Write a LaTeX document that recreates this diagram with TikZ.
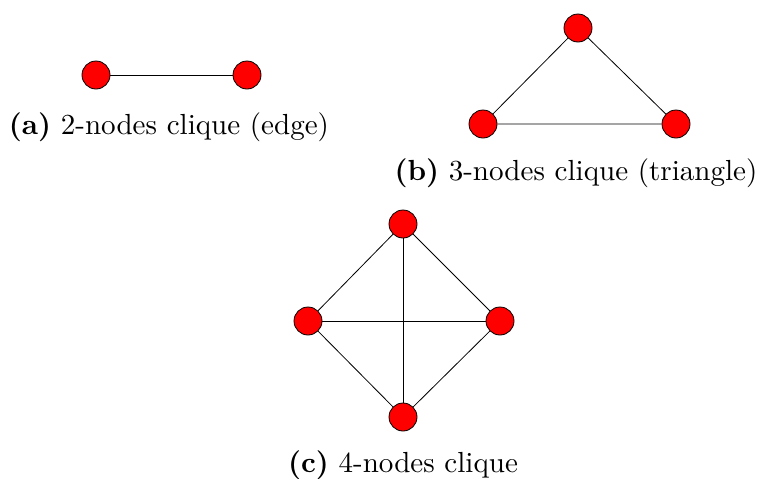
\documentclass[tikz,border=0pt]{standalone}
\newcommand{\capscale}[1]{\scalebox{2.18}{#1}}
\begin{document}
\begin{tikzpicture}[x=0.75pt,y=-0.75pt,
  vert/.style={circle,draw=black,fill=red,line width=0.6pt,minimum size=21pt,inner sep=0pt},
  edge/.style={draw=black,line width=0.6pt},
  captext/.style={font=\normalsize,inner sep=0pt,anchor=base}]
\useasboundingbox (0,0) rectangle (758,479);
% (a)
\node[vert] (a1) at (96,75) {};
\node[vert] (a2) at (247,75) {};
\draw[edge] (a1) -- (a2);
\node[captext] (ca) at (169,134) {\capscale{\textbf{(a)} 2-nodes clique (edge)}};
% (b)
\node[vert] (b1) at (578,28) {};
\node[vert] (b2) at (483,124) {};
\node[vert] (b3) at (676,124) {};
\draw[edge] (b1) -- (b2) -- (b3) -- (b1);
\node[captext] (cb) at (576,180) {\capscale{\textbf{(b)} 3-nodes clique (triangle)}};
% (c)
\node[vert] (c1) at (403,224) {};
\node[vert] (c2) at (308,321) {};
\node[vert] (c3) at (500,321) {};
\node[vert] (c4) at (403,417) {};
\draw[edge] (c1) -- (c2) -- (c4) -- (c3) -- (c1);
\draw[edge] (c1) -- (c4);
\draw[edge] (c2) -- (c3);
\node[captext] (cc) at (403,472) {\capscale{\textbf{(c)} 4-nodes clique}};
\end{tikzpicture}
\end{document}
